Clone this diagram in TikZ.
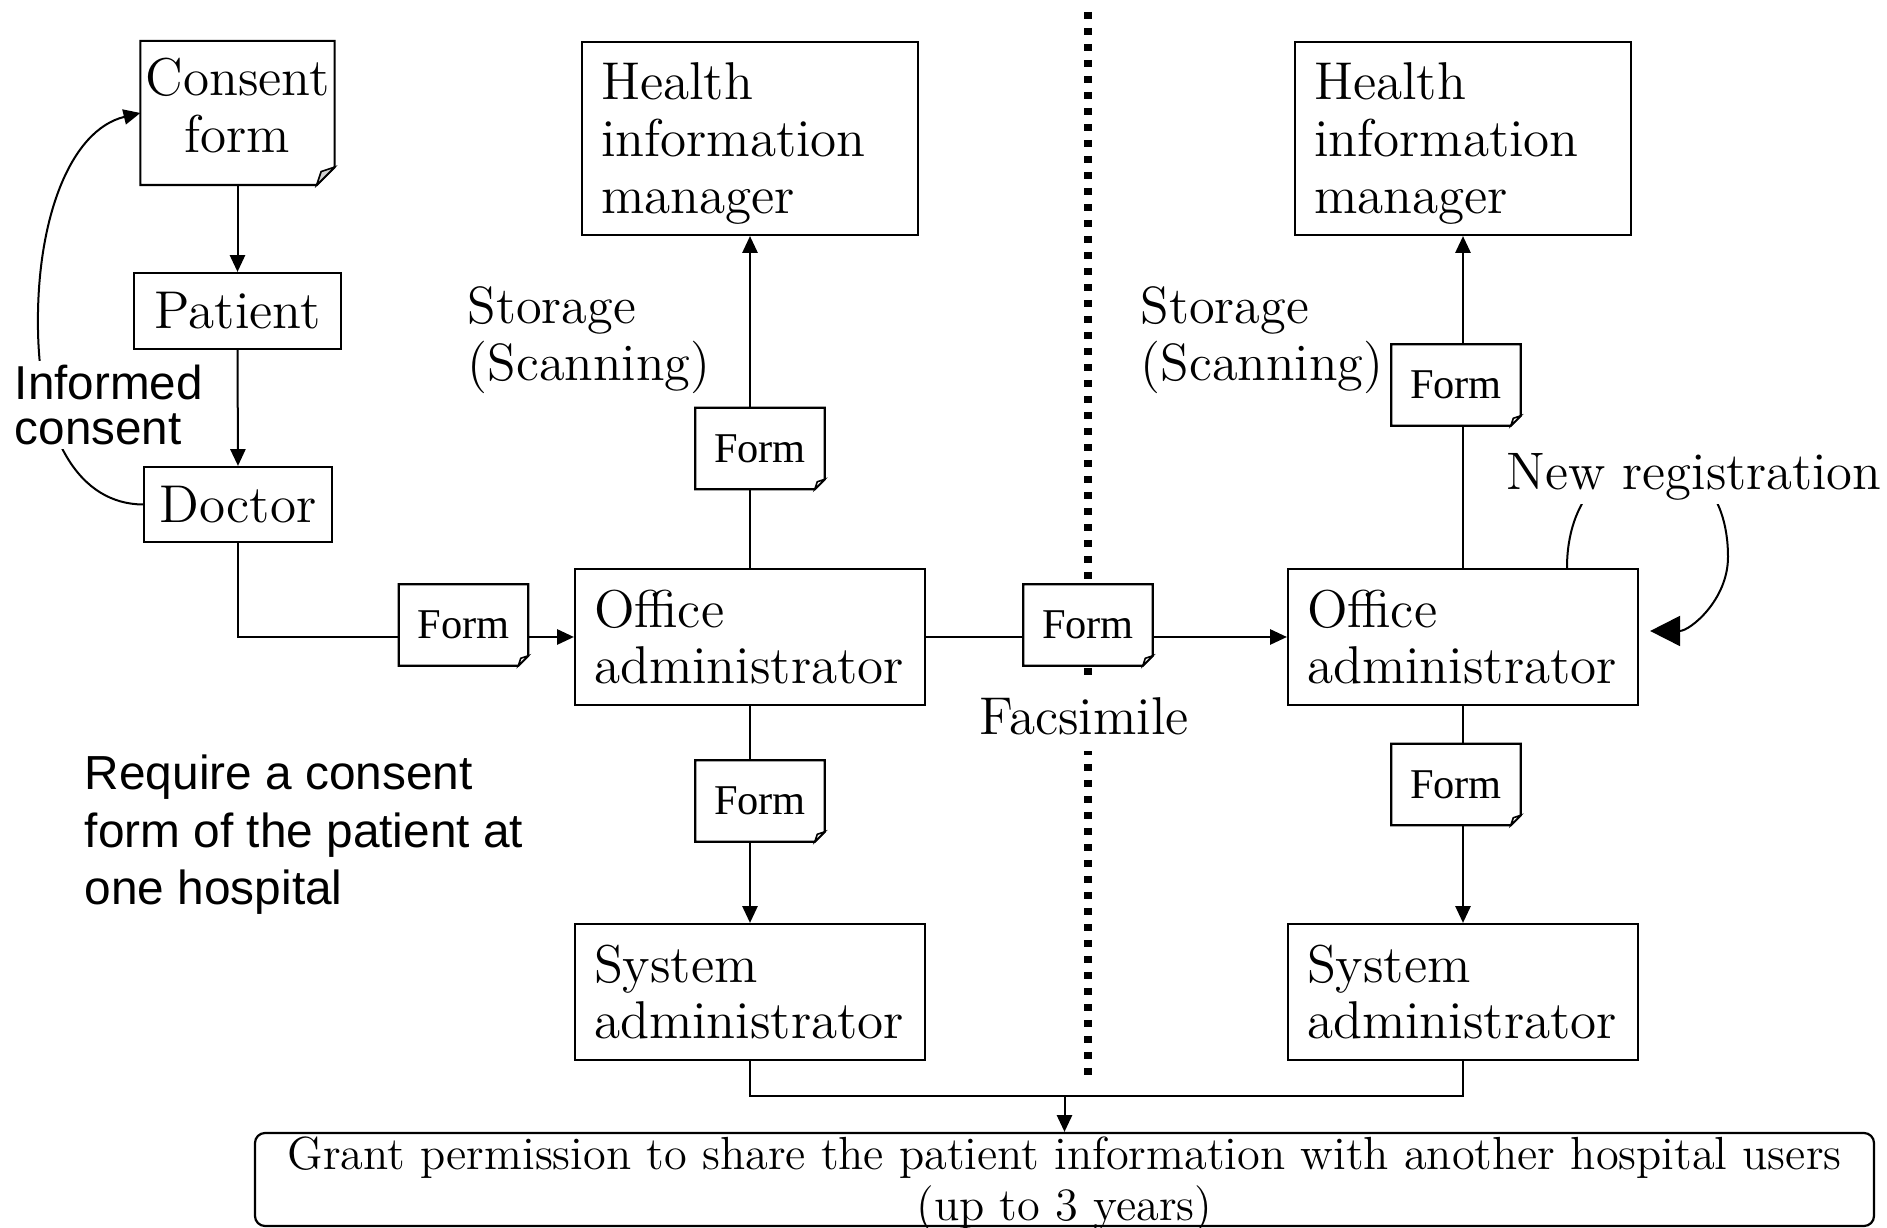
\documentclass[tikz,border=0pt]{standalone}
\usepackage{fontspec}
\newfontfamily\formfont{Liberation Serif}
\newfontfamily\arialfont{Liberation Sans}
\usetikzlibrary{arrows.meta,calc}
\pgfdeclarelayer{bg}
\pgfsetlayers{bg,main}
\newcommand\earbox[3]{%
  \draw[line width=0.55pt, line join=miter] (#1.north west) -- (#1.north east) -- ([yshift=#2]#1.south east) -- ([xshift=-#2]#1.south east) -- (#1.south west) -- cycle;
  \draw[line width=0.4pt, fill=#3] ([yshift=#2]#1.south east) -- ([xshift=-#2]#1.south east) -- ([xshift=-0.75*#2, yshift=0.75*#2]#1.south east) -- cycle;
}
\newcommand\liftlines[3]{\raisebox{#1}[\height][\depth]{\begin{tabular}{@{}#2@{}}#3\end{tabular}}}
\begin{document}
\begin{tikzpicture}[x=0.25pt,y=-0.25pt,
  mainfont/.style={font=\fontsize{13.3}{14.2}\selectfont},
  lbox/.style={draw, line width=0.55pt, inner xsep=4.75pt, inner ysep=0pt, align=left, mainfont, fill=white},
  cbox/.style={draw, line width=0.55pt, inner sep=1pt, align=center, mainfont, fill=white},
  formbox/.style={fill=white, inner sep=1pt, minimum width=32pt, minimum height=20pt, font=\formfont\fontsize{10.6}{12}\selectfont},
  arr/.style={-{Triangle[length=4.2pt,width=3.8pt]}, line width=0.5pt},
  bigarr/.style={-{Triangle[length=7.5pt,width=7.5pt]}, line width=0.5pt},
  dotline/.style={line width=1.8pt, dash pattern=on 1.8pt off 2.2pt},
  txt/.style={mainfont, align=left, inner sep=0pt},
]
\useasboundingbox (0,0) rectangle (1887,1228);
\renewcommand\arraystretch{1}

% left column
\node[cbox, draw=none, minimum width=47.75pt, minimum height=35.5pt] (cf) at (237.5,113) {\liftlines{0pt}{c}{Consent\\form}};
\earbox{cf}{4.5pt}{gray!35}
\node[cbox, minimum width=51.75pt, minimum height=19pt] (pt) at (237.5,311) {Patient};
\node[cbox, minimum width=47pt, minimum height=18.75pt] (dr) at (238,504.5) {Doctor};

% boxes
\node[lbox, text width=74.5pt, minimum height=48.25pt] (h1) at (750,138.5) {\liftlines{-1.6pt}{l}{Health\\information\\manager}};
\node[lbox, text width=78pt, minimum height=34pt] (o1) at (750,637) {Office\\administrator};
\node[lbox, text width=78pt, minimum height=34pt] (s1) at (750,992) {System\\administrator};
\node[lbox, text width=74.5pt, minimum height=48.25pt] (h2) at (1463,138.5) {\liftlines{-1.6pt}{l}{Health\\information\\manager}};
\node[lbox, text width=78pt, minimum height=34pt] (o2) at (1463,637) {Office\\administrator};
\node[lbox, text width=78pt, minimum height=34pt] (s2) at (1463,992) {System\\administrator};

% forms
\node[formbox] (f1) at (463.5,625) {Form}; \earbox{f1}{2.5pt}{white}
\node[formbox] (f2) at (760,448.5) {Form}; \earbox{f2}{2.5pt}{white}
\node[formbox] (f3) at (760,801) {Form}; \earbox{f3}{2.5pt}{white}
\node[formbox] (f4) at (1456,385) {Form}; \earbox{f4}{2.5pt}{white}
\node[formbox] (f5) at (1456,784.5) {Form}; \earbox{f5}{2.5pt}{white}
\node[formbox] (f6) at (1088,625) {Form}; \earbox{f6}{2.5pt}{white}

% bottom box
\node[draw, line width=0.55pt, rounded corners=2.5pt, minimum width=404.75pt, minimum height=23.25pt, inner sep=0pt] (gr) at (1064.5,1179.5) {};
\node[align=center, inner sep=0pt, font=\fontsize{11.6}{12.75}\selectfont] (grtxt) at (1064.5,1184) {Grant permission to share the patient information with another hospital users\\(up to 3 years)};

% texts
\node[txt, anchor=west, font=\fontsize{13.1}{14.2}\selectfont] (st1) at (467,340) {Storage\\(Scanning)};
\node[txt, anchor=west, font=\fontsize{13.1}{14.2}\selectfont] (st2) at (1140,340) {Storage\\(Scanning)};
\node[mainfont, fill=white, inner xsep=2pt, inner ysep=4pt] (fax) at (1084,716) {Facsimile};
\node[font=\fontsize{13.2}{14}\selectfont, fill=white, inner sep=1pt] (newreg) at (1694,477) {New registration};
\node[anchor=west, align=left, fill=white, inner sep=1pt, font=\arialfont\fontsize{11.9}{11.2}\selectfont] (ic) at (10,405) {Informed\\consent};
\node[anchor=west, align=left, inner sep=0pt, font=\arialfont\fontsize{11.95}{14.4}\selectfont] (req) at (84,835) {Require a consent\\form of the patient at\\one hospital};

\coordinate (dtop) at (1088,12);
\coordinate (dbot) at (1088,1075);
\coordinate (j) at (1064.5,1096);

\begin{pgfonlayer}{bg}
\draw[dotline] (dtop) -- (dbot);
\draw[arr] (cf.south) -- (pt.north);
\draw[arr] (pt.south) -- (dr.north);
\draw[arr] (dr.west) .. controls (80,504) and (40,440) .. (38,330) .. controls (36,220) and (70,130) .. (cf.west);
\draw[arr] (dr.south) |- (o1.west);
\draw[arr] (o1.east) -- (o2.west);
\draw[arr] (o1.north) -- (h1.south);
\draw[arr] (o1.south) -- (s1.north);
\draw[arr] (o2.north) -- (h2.south);
\draw[arr] (o2.south) -- (s2.north);
\draw[line width=0.5pt] (s1.south) |- (j) -| (s2.south);
\draw[arr] (j) -- (gr.north);
\draw[bigarr] ($(o2.north)+(104,0)$) .. controls (1567,430) and (1728,420) .. (1728,557) .. controls (1728,600) and (1690,631) .. ($(o2.east)+(11,-6)$);
\end{pgfonlayer}
\end{tikzpicture}
\end{document}
